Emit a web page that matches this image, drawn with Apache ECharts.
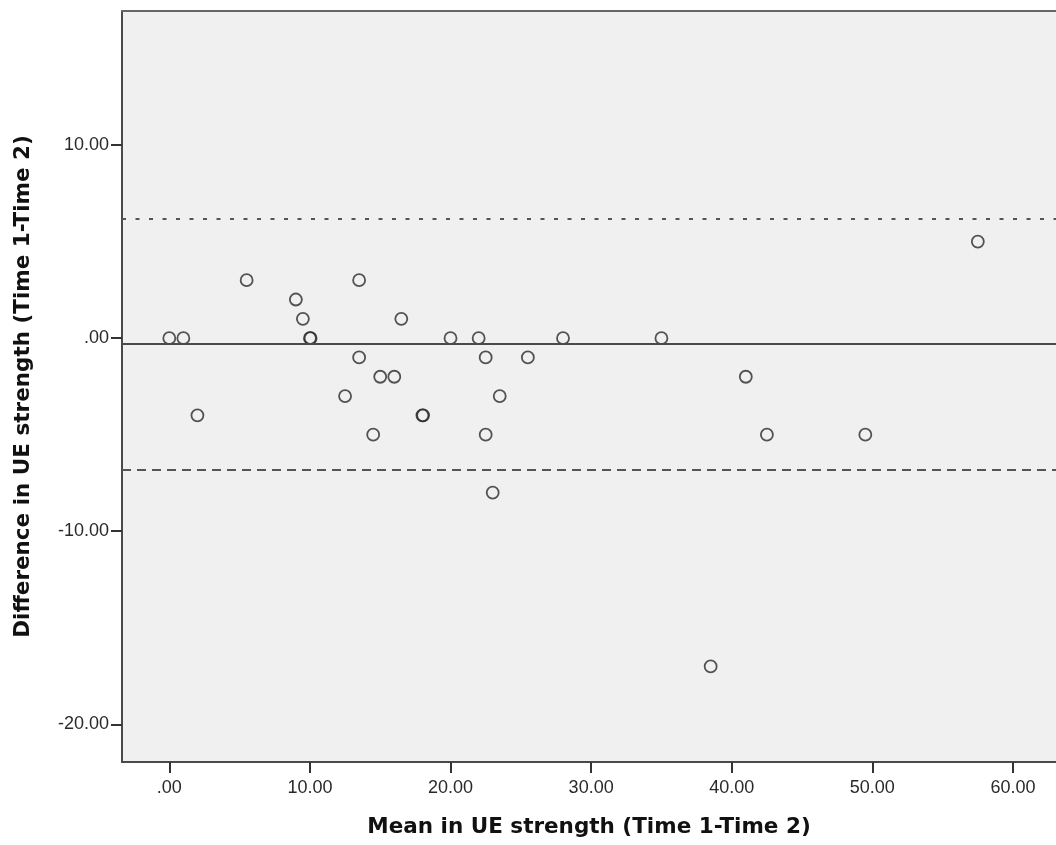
<!DOCTYPE html>
<html>
<head>
<meta charset="utf-8">
<script src="https://cdn.jsdelivr.net/npm/echarts@6/dist/echarts.min.js"></script>
<style>html,body{margin:0;padding:0;background:#fff}#c{width:1056px;height:845px}</style>
</head>
<body>
<div id="c"></div>
<script>
// Bland-Altman data
const meanValues = [0, 1, 2, 5.5, 9, 9.5, 10, 10.05, 12.5, 13.5, 13.5, 14.5, 15, 16, 16.5, 18, 18.05, 20, 22, 22.5, 22.5, 23, 23.5, 25.5, 28, 35, 38.5, 41, 42.5, 49.5, 57.5];
const diffValues = [0, 0, -4, 3, 2, 1, 0, 0, -3, 3, -1, -5, -2, -2, 1, -4, -4, 0, 0, -1, -5, -8, -3, -1, 0, 0, -17, -2, -5, -5, 5];
const meanDiff = -0.3;
const upperLoA = 6.2;
const lowerLoA = -6.8;
const xTicks = [0, 10, 20, 30, 40, 50, 60];
const yTicks = [-20, -10, 0, 10];

const fmt = v => (Math.abs(v) < 1e-9 ? '.00' : v.toFixed(2));
const axisColor = '#4a4a4a';
const chart = echarts.init(document.getElementById('c'));
chart.setOption({
  animation: false,
  backgroundColor: '#ffffff',
  grid: {
    left: 122, top: 11, right: 0, bottom: 83,
    show: true, backgroundColor: '#f0f0f0', borderWidth: 0
  },
  xAxis: [{
    type: 'value', min: -3.364, max: 63.06,
    name: 'Mean in UE strength (Time 1-Time 2)', nameLocation: 'middle', nameGap: 54,
    nameTextStyle: { fontFamily: 'DejaVu Sans', fontWeight: 'bold', fontSize: 21.5, color: '#111' },
    axisLine: { show: true, onZero: false, lineStyle: { color: axisColor, width: 2 } },
    axisTick: { show: true, length: 11, lineStyle: { color: '#333', width: 2 },
      customValues: xTicks },
    axisLabel: { fontFamily: 'Liberation Sans', fontSize: 18, color: '#2a2a2a', margin: 17,
      customValues: xTicks, formatter: fmt },
    splitLine: { show: false }
  }, {
    type: 'value', position: 'top', min: -3.364, max: 63.06,
    axisLine: { show: true, onZero: false, lineStyle: { color: '#666', width: 2 } },
    axisTick: { show: false }, axisLabel: { show: false }, splitLine: { show: false }
  }],
  yAxis: {
    type: 'value', min: -21.95, max: 16.94,
    name: 'Difference in UE strength (Time 1-Time 2)', nameLocation: 'middle', nameGap: 88,
    nameTextStyle: { fontFamily: 'DejaVu Sans', fontWeight: 'bold', fontSize: 21.5, color: '#111' },
    axisLine: { show: true, onZero: false, lineStyle: { color: axisColor, width: 2 } },
    axisTick: { show: true, length: 11, lineStyle: { color: '#333', width: 2 },
      customValues: yTicks },
    axisLabel: { fontFamily: 'Liberation Sans', fontSize: 18, color: '#2a2a2a', margin: 13,
      customValues: yTicks, formatter: fmt },
    splitLine: { show: false }
  },
  series: [{
    type: 'scatter',
    xAxisIndex: 0,
    data: meanValues.map((m, i) => [m, diffValues[i]]),
    symbol: 'circle', symbolSize: 12,
    itemStyle: { color: 'rgba(0,0,0,0)', borderColor: '#2a2a2a', borderWidth: 1.8 },
    markLine: {
      silent: true, symbol: 'none', label: { show: false },
      data: [
        { yAxis: upperLoA, lineStyle: { color: '#555', width: 1.8, type: [4, 9.5] } },
        { yAxis: meanDiff, lineStyle: { color: '#4a4a4a', width: 2, type: 'solid' } },
        { yAxis: lowerLoA, lineStyle: { color: '#555', width: 1.8, type: [9, 6] } }
      ]
    }
  }]
});
</script>
</body>
</html>
